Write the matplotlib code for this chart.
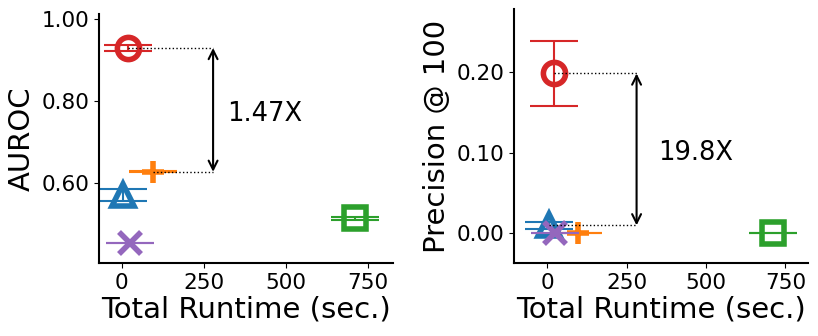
import numpy as np
import matplotlib
matplotlib.use("Agg")
import matplotlib.pyplot as plt

# methods in plotting order (tab10 C0..C4)
colors = ['tab:blue', 'tab:orange', 'tab:green', 'tab:red', 'tab:purple']
markers = ['^', '+', 's', 'o', 'x']
runtime = [5, 95, 710, 20, 25]

auroc = [0.571, 0.628, 0.515, 0.930, 0.455]
auroc_err = [0.015, 0.001, 0.004, 0.007, 0.0]

prec = [0.010, 0.0, 0.0, 0.198, 0.0]
prec_err = [0.004, 0.0, 0.0, 0.040, 0.0]

auroc_ticks = [0.60, 0.80, 1.00]
prec_ticks = [0.00, 0.10, 0.20]
x_ticks = [0, 250, 500, 750]

fig = plt.figure(figsize=(8.18, 3.36), dpi=100)
ax1 = fig.add_axes([0.1214, 0.2163, 0.3594, 0.7411])
ax2 = fig.add_axes([0.6284, 0.2163, 0.3594, 0.7574])


def draw(ax, y, yerr):
    for i in range(len(runtime)):
        ax.errorbar(runtime[i], y[i], yerr=yerr[i], color=colors[i],
                    fmt='none', capsize=17, capthick=1.5, elinewidth=1.5)
        ax.plot(runtime[i], y[i], color=colors[i], marker=markers[i],
                markersize=16, mew=4, fillstyle='none', ls='none')


def ratio_arrow(ax, x0_hi, y_hi, x0_lo, y_lo, xa, label, xt, yt):
    ax.plot([x0_hi, xa], [y_hi, y_hi], 'k:', lw=1)
    ax.plot([x0_lo, xa], [y_lo, y_lo], 'k:', lw=1)
    ax.annotate('', xy=(xa, y_lo), xytext=(xa, y_hi),
                arrowprops=dict(arrowstyle='<->', color='k', lw=1.5,
                                mutation_scale=16, shrinkA=0, shrinkB=0))
    ax.text(xt, yt, label, fontsize=18.5, va='center', ha='left')


draw(ax1, auroc, auroc_err)
ratio_arrow(ax1, runtime[3], auroc[3], runtime[1], auroc[1], 278,
            '1.47X', 322, 0.77)
ax1.set_xlim(-68, 826)
ax1.set_ylim(0.405, 1.012)
ax1.set_yticks(auroc_ticks)
ax1.set_yticklabels([f"{t:.2f}" for t in auroc_ticks])
ax1.set_ylabel("AUROC", fontsize=21)

draw(ax2, prec, prec_err)
ratio_arrow(ax2, runtime[3], prec[3], runtime[0], prec[0], 281,
            '19.8X', 349, 0.10)
ax2.set_xlim(-105, 821)
ax2.set_ylim(-0.037, 0.278)
ax2.set_yticks(prec_ticks)
ax2.set_yticklabels([f"{t:.2f}" for t in prec_ticks])
ax2.set_ylabel("Precision @ 100", fontsize=21)

for ax in (ax1, ax2):
    ax.set_xticks(x_ticks)
    ax.set_xlabel("Total Runtime (sec.)", fontsize=21, labelpad=2)
    ax.tick_params(labelsize=15.5)
    ax.spines['top'].set_visible(False)
    ax.spines['right'].set_visible(False)
    for s in ('left', 'bottom'):
        ax.spines[s].set_linewidth(1.5)

plt.savefig('out.png', dpi=100)
